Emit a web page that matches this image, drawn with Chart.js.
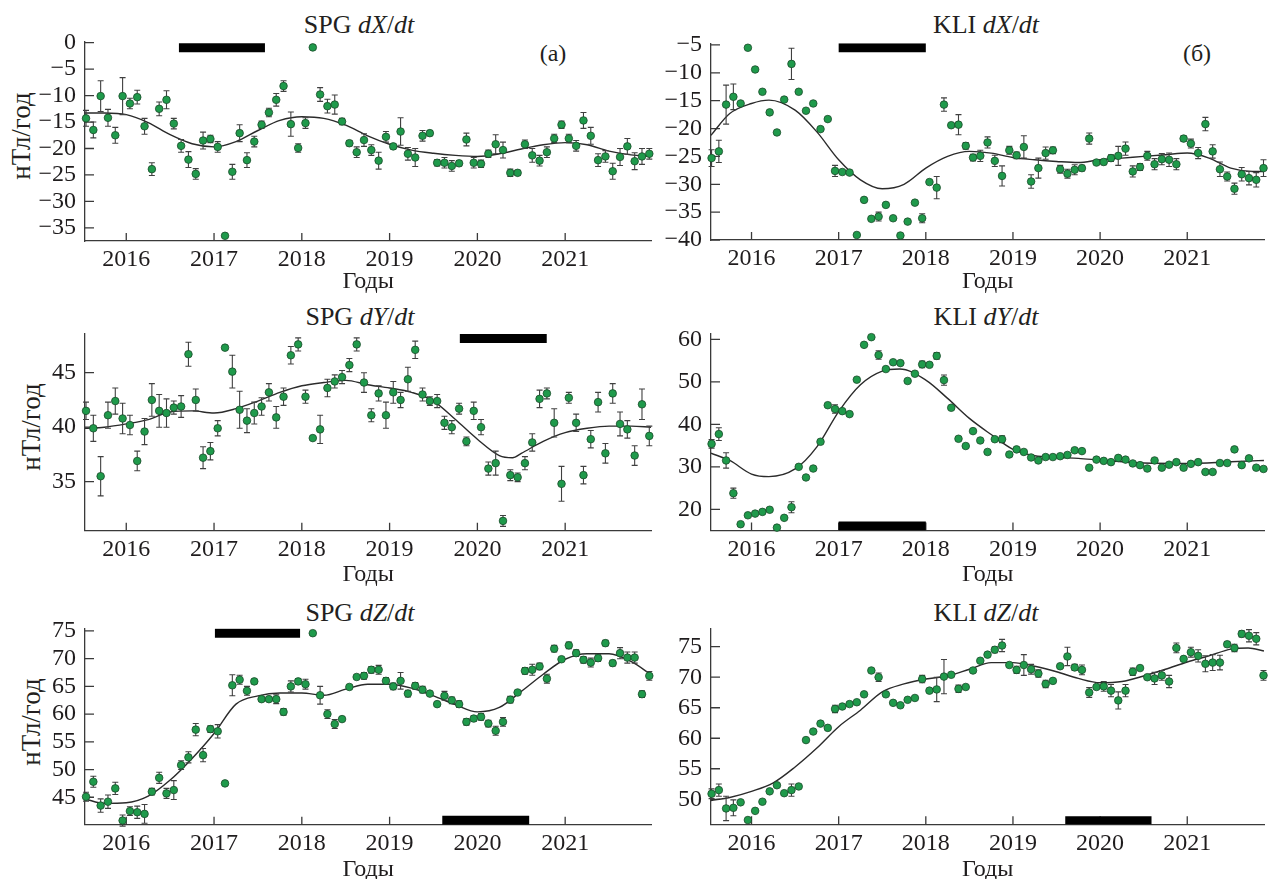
<!DOCTYPE html>
<html>
<head>
<meta charset="utf-8">
<script src="https://cdn.jsdelivr.net/npm/chart.js@4.4.0/dist/chart.umd.min.js"></script>
<style>
body{margin:0;background:#fff;width:1269px;height:879px;overflow:hidden;position:relative;
  font-family:"Liberation Serif","Times New Roman",serif;color:#231f20}
canvas{position:absolute}
.t{position:absolute;font-size:26px;line-height:1;white-space:nowrap;transform:translateX(-50%)}
.lt{position:absolute;font-size:24px;line-height:1;white-space:nowrap;transform:translateX(-50%)}
.yl{position:absolute;font-size:27px;line-height:1;white-space:nowrap;transform:translate(-50%,-50%) rotate(-90deg)}
</style>
</head>
<body>
<div class="t" style="left:359px;top:12px">SPG <i>dX</i>/<i>dt</i></div>
<div class="t" style="left:986px;top:12px">KLI <i>dX</i>/<i>dt</i></div>
<div class="t" style="left:360px;top:304px">SPG <i>dY</i>/<i>dt</i></div>
<div class="t" style="left:986px;top:304px">KLI <i>dY</i>/<i>dt</i></div>
<div class="t" style="left:360px;top:600px">SPG <i>dZ</i>/<i>dt</i></div>
<div class="t" style="left:986px;top:600px">KLI <i>dZ</i>/<i>dt</i></div>
<div class="lt" style="left:553px;top:41px">(а)</div>
<div class="lt" style="left:1197px;top:41px">(б)</div>
<div class="yl" style="left:21px;top:136px">нТл/год</div>
<div class="yl" style="left:31px;top:427px">нТл/год</div>
<div class="yl" style="left:31px;top:722px">нТл/год</div>
<script>
// monthly values, first point = July 2015 (mid-month)
const startYear = 2015 + 6.5 / 12;

// SPG dX/dt
const spgX = [-14.3,-16.5,-10.1,-14.2,-17.5,-10.1,-11.5,-10.3,-15.8,-23.9,
  -12.5,-10.8,-15.3,-19.5,-22.1,-24.8,-18.5,-18.2,-19.7,-36.5,
  -24.4,-17.1,-22.2,-18.7,-15.5,-13.2,-10.8,-8.2,-15.4,-19.9,
  -15.2,-0.9,-9.8,-12.0,-11.7,-14.9,-19.0,-20.7,-18.4,-20.3,
  -22.3,-17.8,-19.6,-16.8,-21.0,-21.7,-17.6,-17.1,-22.7,-22.7,
  -23.3,-22.8,-18.3,-22.7,-22.9,-21.0,-19.2,-20.3,-24.6,-24.6,
  -19.2,-21.3,-22.3,-20.7,-18.1,-15.5,-18.1,-19.5,-14.7,-17.6,
  -22.2,-21.5,-24.3,-21.6,-19.6,-22.4,-21.5,-21.0];
const spgXErr = [1.5,1.5,2.9,1.6,1.5,3.5,1.0,1.3,1.5,1.2,
  1.3,1.7,1.0,1.2,1.5,1.0,1.6,0.7,1.0,0,
  1.4,1.6,1.4,1.0,0.7,0.8,1.2,1.0,2.3,0.8,
  1.0,0,1.3,1.3,1.8,0.6,0.5,1.0,1.2,1.0,
  1.6,1.0,0.5,2.6,1.2,1.7,1.0,0.5,0.6,1.0,
  1.0,0.5,1.2,1.0,0.7,0.7,1.8,1.5,0.7,0.5,
  0.8,1.3,1.0,1.0,0.8,0.7,0.8,1.0,1.5,1.6,
  1.2,1.1,1.5,1.6,1.5,1.6,1.5,1.0];
const fitXa = [2015.53,2015.75,2016,2016.25,2016.5,2016.75,2017,2017.25,2017.5,2017.75,2018,2018.25,2018.5,2018.75,2019,2019.25,2019.5,2019.75,2020,2020.25,2020.5,2020.75,2021,2021.25,2021.5,2021.75,2021.98];
const fitYa = [-13.3,-13.3,-13.6,-15.1,-17.4,-19.1,-19.7,-18.7,-16.6,-14.7,-14.0,-14.3,-15.6,-17.6,-19.2,-20.3,-20.9,-21.3,-21.5,-21.0,-20.1,-19.3,-18.9,-19.3,-20.5,-21.2,-21.5];
const barXa = [2016.6, 2017.58], barYa = [-0.96, -0.96];

// KLI dX/dt
const kliX = [-25.3,-24.1,-15.7,-14.3,-15.5,-5.5,-9.4,-13.4,-17.1,-20.7,
  -14.8,-8.4,-13.4,-16.8,-15.5,-20.1,-18.3,-27.6,-27.8,-27.9,
  -39.1,-32.8,-36.2,-35.8,-33.7,-36.1,-39.2,-36.7,-33.3,-36.1,
  -29.6,-30.6,-15.7,-19.4,-19.3,-23.1,-25.2,-24.9,-22.5,-25.8,
  -28.5,-23.9,-24.8,-23.3,-29.5,-27.1,-24.4,-23.9,-27.3,-28.1,
  -27.4,-27.1,-21.8,-26.1,-26.0,-25.3,-24.9,-23.6,-27.7,-26.9,
  -24.9,-26.4,-25.5,-25.6,-26.4,-21.8,-22.7,-24.4,-19.2,-24.1,
  -27.3,-28.6,-30.8,-28.2,-28.9,-29.2,-27.1];
const kliXErr = [1.5,2.0,3.5,2.3,0,0,0,0,0,0,
  0,2.8,0,0,0,0,0,1.0,0,0,
  0,0,0,0.8,0,0,0,0,0,0.8,
  0,2.0,1.2,0,1.8,0.6,0.6,1.0,1.0,1.0,
  1.8,0.7,0.6,2.0,1.2,1.8,1.1,0.6,0.7,0.8,
  0.9,0.5,1.0,0,0.5,0.6,1.7,1.2,1.0,0.6,
  0.8,1.0,1.0,1.2,1.0,0.5,0.8,1.0,1.2,1.2,
  1.3,0.8,1.0,1.2,1.2,1.3,1.5];
const fitXb = [2015.535,2015.75,2016,2016.2,2016.5,2016.75,2017,2017.25,2017.5,2017.75,2018,2018.25,2018.5,2018.75,2019,2019.25,2019.5,2019.75,2020,2020.25,2020.5,2020.75,2021,2021.25,2021.5,2021.75,2021.88];
const fitYb = [-21.2,-17.3,-15.5,-14.9,-16.7,-20.6,-25.6,-29.2,-30.8,-30.0,-27.1,-25.0,-24.1,-24.4,-25.2,-25.6,-25.9,-26.1,-25.6,-25.3,-25.0,-24.7,-24.4,-25.3,-27.1,-27.7,-27.7];
const barXb = [2017.0, 2018.0], barYb = [-5.5, -5.5];

// SPG dY/dt
const spgY = [41.5,39.9,35.5,41.1,42.4,40.8,40.2,36.9,39.6,42.5,
  41.5,41.3,41.8,41.9,46.7,42.5,37.2,37.8,39.9,47.3,
  45.1,41.6,40.6,41.3,41.9,43.2,40.9,42.8,46.6,47.6,
  42.8,39.0,39.8,43.6,44.2,44.6,45.7,47.6,44.1,41.1,
  43.1,41.1,43.2,42.5,44.4,47.1,43.0,42.4,42.4,40.4,
  40.0,41.7,38.7,41.5,40.0,36.2,36.7,31.4,35.6,35.4,
  36.7,38.6,42.6,43.1,40.4,34.8,42.7,40.4,35.6,38.9,
  42.3,37.6,43.1,40.3,39.8,37.4,42.1,39.2];
const spgYErr = [0.8,1.2,1.8,1.2,1.2,1.4,0.9,0.9,1.2,1.5,
  1.5,1.3,0.6,1.0,1.1,1.0,1.0,0.8,0.7,0,
  1.5,1.7,1.1,1.0,0.8,0.8,1.0,0.8,0.8,0.6,
  0.6,0,1.3,0.8,0.6,0.6,0.6,0.6,0.9,0.6,
  0.7,1.2,1.0,0.7,1.1,0.8,0.6,0.4,0.6,0.6,
  0.6,0.5,0.4,0.8,0.7,0.6,1.1,0.5,0.5,0.4,
  0.6,0.8,0.8,0.5,1.3,1.6,0.5,0.8,0.8,0.8,
  0.9,0.9,0.9,1.1,0.8,0.9,1.4,0.9];
const fitXc = [2015.53,2015.75,2016,2016.25,2016.5,2016.75,2017,2017.25,2017.5,2017.75,2018,2018.25,2018.5,2018.75,2019,2019.25,2019.5,2019.75,2020,2020.25,2020.4,2020.5,2020.75,2021,2021.25,2021.5,2021.75,2021.98];
const fitYc = [39.9,40.0,40.3,40.7,41.4,41.5,41.3,41.7,42.4,43.2,43.8,44.1,44.3,43.9,43.6,43.2,42.4,40.7,38.9,37.4,37.2,37.6,38.7,39.5,39.9,40.1,40.1,40.0];
const barXc = [2019.8, 2020.79], barYc = [48.15, 48.15];

// KLI dY/dt
const kliY = [35.4,37.7,31.5,23.8,16.5,18.6,19.0,19.4,19.9,15.7,
  18.0,20.5,30.0,27.5,29.6,35.9,44.5,43.6,43.1,42.4,
  50.5,58.7,60.5,56.3,53.0,54.6,54.4,50.2,51.9,54.1,
  54.0,56.1,50.4,43.9,36.6,34.9,38.4,36.2,33.5,36.5,
  36.5,32.9,34.1,33.5,32.2,31.5,32.3,32.3,32.5,32.8,
  33.9,33.7,29.8,31.7,31.4,31.1,32.1,31.7,30.8,30.4,
  29.6,31.5,29.8,30.5,31.1,29.8,30.7,31.1,28.8,28.8,
  30.9,30.9,34.1,30.4,32.0,29.8,29.5];
const kliYErr = [1.0,1.5,1.8,1.2,0,0,0,0,0,0,
  0,1.3,0,0,0,0,0,1.0,0,0,
  0,0,0,1.0,0,0,0,0,0,0.8,
  0,0.8,1.2,0,0,0,0,0,0,0,
  0.8,0,0,0,0.4,0,0,0,0,0,
  0,0,0,0,0,0,0.3,0,0,0,
  0,0,0,0,0,0,0,0,0,0,
  0,0,0,0,0,0,0];
const fitXd = [2015.535,2015.75,2016,2016.2,2016.5,2016.75,2017,2017.25,2017.5,2017.7,2018,2018.25,2018.5,2018.75,2019,2019.25,2019.5,2019.75,2020,2020.5,2021,2021.5,2021.88];
const fitYd = [33.2,31.5,28.3,27.7,29.5,34.7,43.0,49.3,52.5,53.0,50.4,46.1,41.4,37.6,34.1,32.6,32.2,32.0,31.6,30.9,30.8,31.2,31.5];
const barXd = [2017.0, 2018.0], barYd = [16.1, 16.1];

// SPG dZ/dt
const spgZ = [45.1,47.8,43.5,44.2,46.6,40.8,42.5,42.3,42.0,46.0,
  48.5,45.7,46.3,50.8,52.2,57.2,52.6,57.3,56.9,47.5,
  65.2,66.2,64.2,65.9,62.7,62.7,62.7,60.4,65.0,65.9,
  65.4,74.6,63.4,60.0,58.2,59.1,64.9,66.7,66.9,68.0,
  68.0,66.0,65.0,66.0,63.7,65.1,64.4,63.7,61.8,63.3,
  62.5,61.8,58.6,59.2,59.5,58.3,57.0,58.6,62.6,63.9,
  67.8,68.0,68.6,66.4,71.8,69.9,72.4,71.0,69.8,69.3,
  70.1,72.8,69.2,71.0,70.2,70.2,63.6,66.9];
const spgZErr = [0.8,1.0,1.2,1.2,1.1,1.0,0.8,1.1,1.7,0.6,
  1.0,0.9,1.7,0.8,1.0,1.1,1.2,0.6,1.2,0,
  1.9,0.8,0.8,0.4,0,0.4,0.8,0.6,1.0,0.5,
  0.9,0,1.6,0.8,0.8,0.4,0,0,0.6,0.6,
  0.8,0.6,0.6,1.5,0.6,0.6,0.6,0,0,0.8,
  0.6,0.6,0.6,0.5,0.6,0.6,0.8,0.8,0.6,0,
  0.6,1.0,0.6,0.8,0.6,0,0.6,0.6,0.6,0.8,
  0.6,0.5,0.5,1.0,1.0,1.0,0.6,0.8];
const fitXe = [2015.53,2015.75,2016,2016.25,2016.5,2016.75,2017,2017.25,2017.5,2017.75,2018,2018.25,2018.5,2018.75,2019,2019.25,2019.5,2019.75,2020,2020.25,2020.5,2020.75,2021,2021.25,2021.5,2021.75,2021.98];
const fitYe = [44.7,43.9,44.0,45.2,48.1,52.0,56.5,61.8,63.3,63.8,63.8,63.4,64.5,65.4,65.4,64.7,63.3,61.7,60.4,61.2,64.1,67.2,69.9,70.9,70.9,69.5,67.1];
const barXe = [2017.01, 2017.98], barYe = [74.6, 74.6];
const barXe2 = [2019.6, 2020.59], barYe2 = [40.85, 40.85];

// KLI dZ/dt
const kliZ = [50.9,51.5,48.5,48.6,49.5,46.6,48.1,49.6,51.3,52.3,
  51.0,51.5,52.1,59.7,61.1,62.4,61.7,64.8,65.2,65.6,
  65.9,67.2,71.1,70.0,67.2,65.8,65.4,66.3,66.6,69.7,
  67.8,68.0,70.1,70.4,68.1,68.4,71.1,72.7,73.7,74.5,
  75.2,72.0,71.2,72.0,71.3,70.6,68.9,69.4,71.8,73.4,
  71.6,71.2,67.5,68.4,68.5,67.8,66.2,67.8,70.9,71.5,
  70.0,69.8,70.3,69.3,74.8,73.0,74.1,73.5,72.2,72.4,
  72.4,75.4,74.8,77.1,76.8,76.3,70.3];
const kliZErr = [0.8,1.0,2.0,1.3,0,0,0,0,0,0,
  0,1.0,0,0,0,0,0,0.6,0,0,
  0,0,0,0.7,0,0,0,0,0,0.6,
  0,2.0,2.8,0,0.6,0,0,0,0,0.5,
  1.0,0,0.6,1.7,0.8,0.6,0.6,0,0,1.5,
  0.5,0.8,0.8,0,0.8,1.0,1.4,1.0,0.6,0,
  0,1.0,0.8,1.0,0.8,0,0.8,1.0,1.3,1.3,
  1.2,0.4,0.6,0.5,1.0,1.0,0.8];
const fitXf = [2015.535,2015.75,2016,2016.25,2016.5,2016.75,2017,2017.25,2017.5,2017.75,2018,2018.25,2018.5,2018.75,2019,2019.25,2019.5,2019.75,2020,2020.25,2020.5,2020.75,2021,2021.25,2021.5,2021.7,2021.88];
const fitYf = [49.8,50.3,51.3,52.7,55.3,58.4,61.9,64.6,67.6,68.9,69.7,70.2,71.3,72.4,72.4,71.8,70.9,69.8,69.1,69.3,70.2,71.3,72.5,73.5,74.6,74.8,74.3];
const barXf = [2019.6, 2020.59], barYf = [46.48, 46.48];

const FONT = '"Liberation Serif", "Times New Roman", serif';
const INK = '#1f1c1d';

// error bars drawn under each scatter dataset
const errorBars = {
  id: 'errorBars',
  beforeDatasetDraw(chart, args) {
    const ds = chart.data.datasets[args.index];
    if (!ds.errors) return;
    const ctx = chart.ctx, ys = chart.scales.y;
    ctx.save();
    ctx.strokeStyle = '#404040';
    ctx.lineWidth = 1.1;
    ctx.beginPath();
    args.meta.data.forEach((pt, i) => {
      const e = ds.errors[i];
      if (!e) return;
      const v = ds.data[i].y;
      const y1 = ys.getPixelForValue(v + e), y2 = ys.getPixelForValue(v - e);
      ctx.moveTo(pt.x, y1); ctx.lineTo(pt.x, y2);
      ctx.moveTo(pt.x - 3, y1); ctx.lineTo(pt.x + 3, y1);
      ctx.moveTo(pt.x - 3, y2); ctx.lineTo(pt.x + 3, y2);
    });
    ctx.stroke();
    ctx.restore();
  }
};

// tick marks pointing into the plot
const inTicks = {
  id: 'inTicks',
  beforeDatasetsDraw(chart) {
    const {ctx, chartArea: a, scales: {x, y}} = chart;
    ctx.save();
    ctx.strokeStyle = '#3a3a3a';
    ctx.lineWidth = 1.3;
    ctx.beginPath();
    x.ticks.forEach(t => {
      const px = x.getPixelForValue(t.value);
      ctx.moveTo(px, a.bottom); ctx.lineTo(px, a.bottom - 8);
    });
    y.ticks.forEach(t => {
      const py = y.getPixelForValue(t.value);
      ctx.moveTo(a.left, py); ctx.lineTo(a.left + 9, py);
    });
    ctx.stroke();
    ctx.restore();
  }
};

function pts(xs, ys) { return xs.map((x, i) => ({x: x, y: ys[i]})); }

function makePanel(p) {
  const cv = document.createElement('canvas');
  cv.width = p.w; cv.height = p.h;
  cv.style.left = p.left + 'px';
  cv.style.top = p.top + 'px';
  document.body.appendChild(cv);

  const times = p.vals.map((v, i) => startYear + i / 12);
  const datasets = [{
    type: 'line', data: pts(p.fitX, p.fitY), borderColor: '#2b2b2b', borderWidth: 1.4,
    pointRadius: 0, cubicInterpolationMode: 'monotone', fill: false, order: 2
  }];
  p.bars.forEach(b => datasets.push({
    type: 'line', data: pts(b[0], b[1]), borderColor: '#000', borderWidth: 9,
    borderCapStyle: 'butt', pointRadius: 0, fill: false, order: 3
  }));
  datasets.push({
    type: 'scatter', data: pts(times, p.vals), errors: p.errs,
    backgroundColor: '#1f9a4b', borderColor: '#1a4a2a', borderWidth: 0.8,
    pointRadius: 3.8, clip: false, order: 1
  });

  new Chart(cv, {
    type: 'scatter',
    data: {datasets},
    options: {
      responsive: false,
      animation: false,
      events: [],
      layout: {padding: {top: p.padTop, right: p.padRight, left: 0, bottom: 0}},
      plugins: {legend: {display: false}, tooltip: {enabled: false}},
      scales: {
        x: {
          type: 'linear', min: p.xmin, max: p.xmax,
          afterFit: s => { s.height = p.xh; },
          grid: {display: false, drawTicks: false},
          border: {display: true, color: '#3a3a3a', width: 1.3},
          ticks: {stepSize: 1, includeBounds: false, padding: 7, color: INK, maxRotation: 0,
            autoSkip: false, font: {family: FONT, size: 24, lineHeight: 1}, callback: v => String(v)},
          title: {display: true, text: 'Годы', color: INK, padding: 0,
            font: {family: FONT, size: 24, lineHeight: 1}}
        },
        y: {
          type: 'linear', min: p.ymin, max: p.ymax,
          afterFit: s => { s.width = p.yw; },
          grid: {display: false, drawTicks: false},
          border: {display: true, color: '#3a3a3a', width: 1.3},
          ticks: {stepSize: p.step, includeBounds: false, padding: 9, color: INK,
            font: {family: FONT, size: 24, lineHeight: 1},
            callback: v => v < 0 ? '\u2212' + Math.abs(v) : String(v)}
        }
      }
    },
    plugins: [errorBars, inTicks]
  });
}

const L = {left: 0, w: 656, yw: 85, padRight: 3.4, xmin: 2015.53, xmax: 2021.98};
const R = {left: 645, w: 624, yw: 66, padRight: 0, xmin: 2015.535, xmax: 2021.883};

makePanel(Object.assign({}, L, {top: 0, h: 294, padTop: 41.6, xh: 52.9, ymin: -37.5, ymax: 0.2, step: 5,
  vals: spgX, errs: spgXErr, fitX: fitXa, fitY: fitYa, bars: [[barXa, barYa]]}));
makePanel(Object.assign({}, R, {top: 0, h: 294, padTop: 43.3, xh: 54, ymin: -40, ymax: -4.7, step: 5,
  vals: kliX, errs: kliXErr, fitX: fitXb, fitY: fitYb, bars: [[barXb, barYb]]}));
makePanel(Object.assign({}, L, {top: 295, h: 292, padTop: 38.5, xh: 56.3, ymin: 30.5, ymax: 48.6, step: 5,
  vals: spgY, errs: spgYErr, fitX: fitXc, fitY: fitYc, bars: [[barXc, barYc]]}));
makePanel(Object.assign({}, R, {top: 295, h: 292, padTop: 38.35, xh: 56.4, ymin: 15, ymax: 61.4, step: 10,
  vals: kliY, errs: kliYErr, fitX: fitXd, fitY: fitYd, bars: [[barXd, barYd]]}));
makePanel(Object.assign({}, L, {top: 590, h: 292, padTop: 38.2, xh: 57.3, ymin: 40.05, ymax: 75.5, step: 5,
  vals: spgZ, errs: spgZErr, fitX: fitXe, fitY: fitYe, bars: [[barXe, barYe], [barXe2, barYe2]]}));
makePanel(Object.assign({}, R, {top: 590, h: 292, padTop: 38.4, xh: 57.7, ymin: 45.9, ymax: 78, step: 5,
  vals: kliZ, errs: kliZErr, fitX: fitXf, fitY: fitYf, bars: [[barXf, barYf]]}));
</script>
</body>
</html>
